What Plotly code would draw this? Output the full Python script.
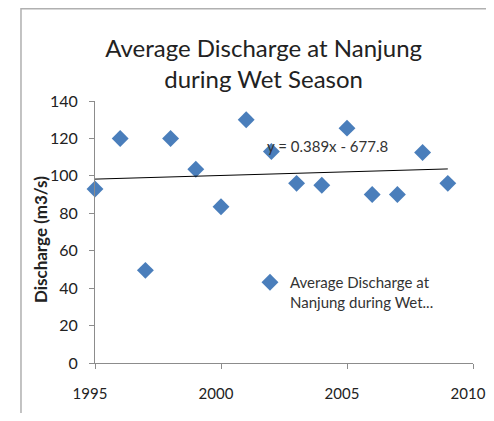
import plotly.graph_objects as go

years = [1995, 1996, 1997, 1998, 1999, 2000, 2001, 2002, 2003, 2004, 2005, 2006, 2007, 2008, 2009]
discharge = [93, 120, 49.5, 120, 103.5, 83.5, 130, 113, 96, 95, 125.5, 90, 90, 112.5, 96]
trend_slope = 0.389
trend_intercept = -677.8
trend_x = [1995, 2009]
series_name = "Average Discharge at<br>Nanjung during Wet..."
title_text = "Average Discharge at Nanjung<br>during Wet Season"
y_title = "Discharge (m3/s)"
trend_label = "y = 0.389x - 677.8"

FONT = "Lato"
H = 405
fig = go.Figure()
fig.add_trace(go.Scatter(
    x=years, y=discharge, mode="markers", name=series_name,
    marker=dict(symbol="diamond", size=13, color="#4a7ebb"),
    cliponaxis=False,
))
fig.add_trace(go.Scatter(
    x=trend_x, y=[trend_slope * v + trend_intercept for v in trend_x],
    mode="lines", line=dict(color="#000000", width=1), showlegend=False,
    hoverinfo="skip",
))
fig.add_annotation(x=2001.75, y=116, text=trend_label, showarrow=False,
                   xanchor="left", yanchor="middle",
                   font=dict(family=FONT, size=15, color="#333333"))
fig.add_annotation(x=-0.1455, y=0.469, xref="paper", yref="paper",
                   text="<b>" + y_title + "</b>", textangle=-90, showarrow=False,
                   xanchor="center", yanchor="middle",
                   font=dict(family=FONT, size=17, color="#222222"))
fig.update_layout(
    width=486, height=H,
    margin=dict(l=87, r=21, t=93, b=H - 93 - 262),
    paper_bgcolor="white", plot_bgcolor="white",
    title=dict(text=title_text, x=0.526, xanchor="center", y=1 - 49 / H, yanchor="middle",
               font=dict(family=FONT, size=24, color="#222222")),
    font=dict(family=FONT, size=14, color="#222222"),
    xaxis=dict(range=[1995, 2010], tickvals=[1995, 2000, 2005, 2010],
               showline=True, linecolor="#8c8c8c", linewidth=1,
               ticks="outside", ticklen=5, tickcolor="#8c8c8c",
               showgrid=False, zeroline=False, automargin=False,
               ticklabelstandoff=12, ticklabelshift=-5, ticklabeloverflow="allow",
               tickprefix="<b>", ticksuffix="</b>",
               tickfont=dict(family=FONT, size=15, color="#222222")),
    yaxis=dict(range=[0, 140], tickvals=[0, 20, 40, 60, 80, 100, 120, 140],
               showline=True, linecolor="#8c8c8c", linewidth=1,
               ticks="outside", ticklen=5, tickcolor="#8c8c8c",
               showgrid=False, zeroline=False, automargin=False,
               ticklabelstandoff=8,
               tickprefix="<b>", ticksuffix="</b>",
               tickfont=dict(family=FONT, size=16, color="#222222")),
    legend=dict(x=0.41, y=0.37, xanchor="left", yanchor="top",
                valign="top", bgcolor="rgba(0,0,0,0)",
                font=dict(family=FONT, size=15, color="#333333")),
    shapes=[dict(type="rect", xref="paper", yref="paper",
                 x0=-0.1958, x1=1.2, y0=-0.4, y1=1.352,
                 line=dict(color="#b0b0b0", width=1.5), layer="below")],
)
fig.write_html("out.html")
